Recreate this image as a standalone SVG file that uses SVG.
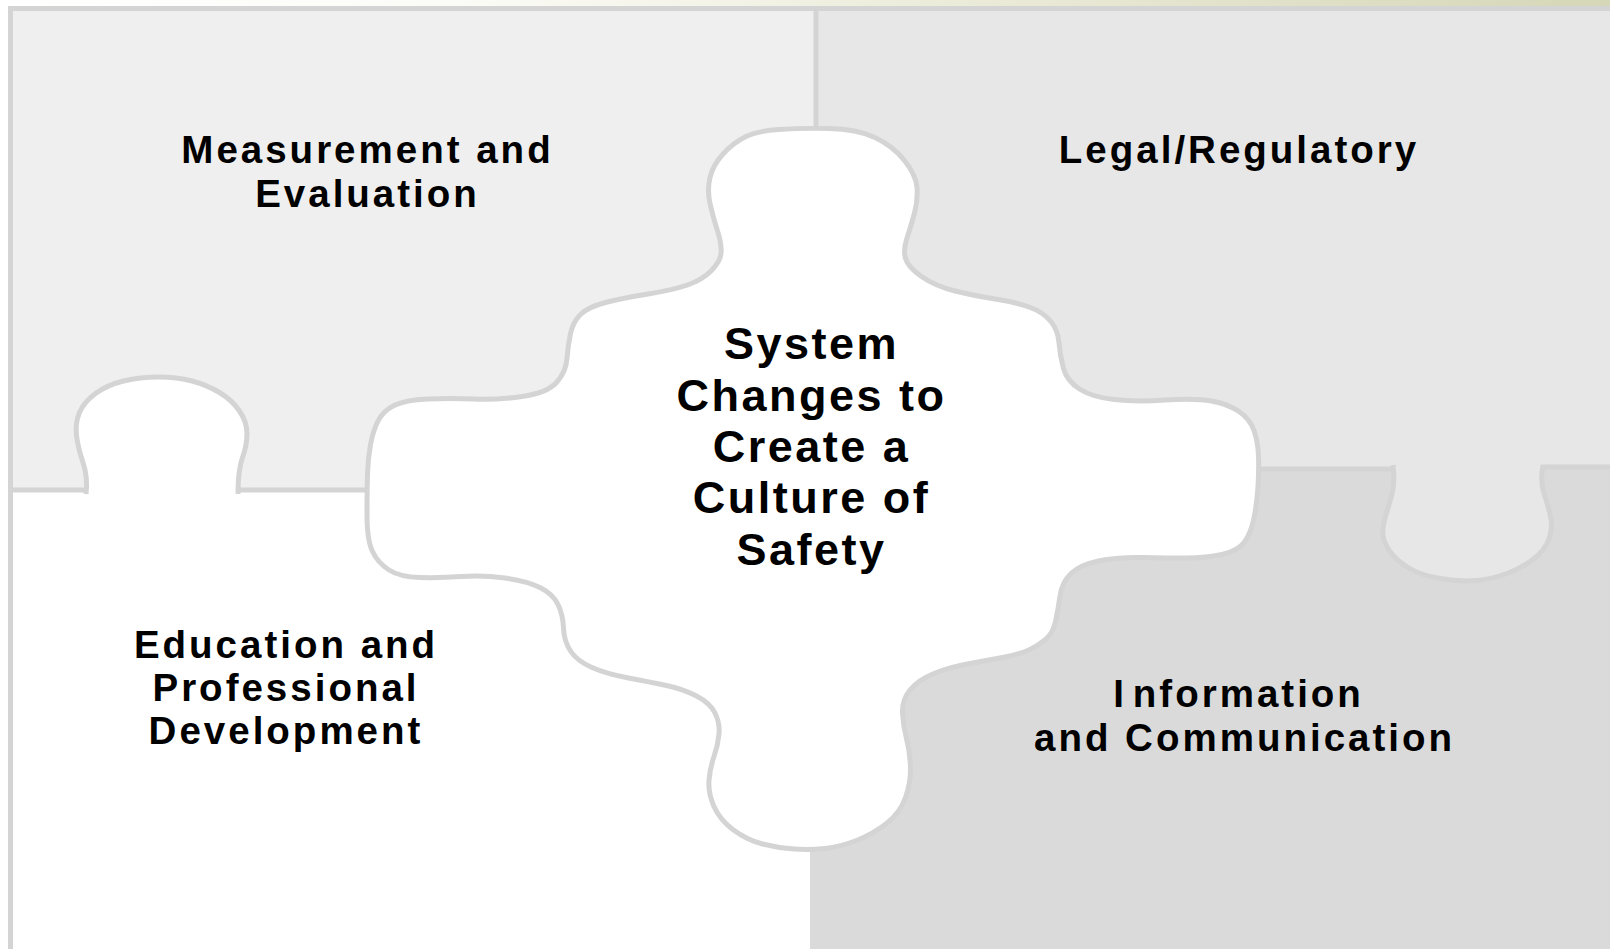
<svg xmlns="http://www.w3.org/2000/svg" width="1610" height="949" viewBox="0 0 1610 949">
  <defs>
    <linearGradient id="topGlow" x1="0" y1="0" x2="1" y2="0">
      <stop offset="0" stop-color="#ffffff"/>
      <stop offset="0.3" stop-color="#fbfbf6"/>
      <stop offset="0.6" stop-color="#ebebd9"/>
      <stop offset="1" stop-color="#d6d6b8"/>
    </linearGradient>
    <style>
      .edge { stroke: #d4d4d4; stroke-width: 5; fill: none; }
      .label { font-family: "Liberation Sans", Arial, sans-serif; font-weight: bold; fill: #000; text-anchor: middle; }
      .side { font-size: 38.5px; letter-spacing: 3px; }
      .core { font-size: 45px; letter-spacing: 2.5px; }
    </style>
  </defs>

  <!-- page background and header strip -->
  <rect x="0" y="0" width="1610" height="949" fill="#ffffff"/>
  <rect x="0" y="0" width="1610" height="6" fill="url(#topGlow)"/>

  <!-- quadrant pieces -->
  <g id="piece-measurement">
    <rect x="13" y="11" width="803" height="479" fill="#efefef"/>
  </g>
  <g id="piece-legal">
    <rect x="816" y="11" width="794" height="458" fill="#e7e7e7"/>
  </g>
  <g id="piece-education">
    <rect x="13" y="490" width="797" height="459" fill="#ffffff"/>
    <!-- knob reaching up into the measurement piece -->
    <path class="edge" style="fill:#ffffff" d="M 86,494 Q 88,477 83,462.5 Q 78,448 76.5,435.5 Q 75,423 79.5,412.5 Q 84,402 95.5,393.5 Q 107,385 123.5,381 Q 140,377 158.5,377 Q 177,377 192,381 Q 207,385 219.5,392.5 Q 232,400 239.5,411 Q 247,422 247,433.5 Q 247,445 242.5,457.5 Q 238,470 238,494"/>
  </g>
  <g id="piece-information">
    <rect x="810" y="469" width="800" height="480" fill="#dadada"/>
  </g>
  <!-- knob of the legal piece reaching down into the information piece -->
  <path class="edge" style="fill:#e7e7e7" d="M 1393,465 Q 1395,483 1392,494 Q 1389,505 1385.5,516.5 Q 1382,528 1383,535.5 Q 1384,543 1390,551.5 Q 1396,560 1408,567.5 Q 1420,575 1440,578.5 Q 1460,582 1476,580.5 Q 1492,579 1507,573.5 Q 1522,568 1533.5,559 Q 1545,550 1549,539 Q 1553,528 1550.5,516.5 Q 1548,505 1544,493.5 Q 1540,482 1543,465"/>

  <!-- seams between pieces and outer frame -->
  <g id="seams" class="edge">
    <path d="M 8,8.5 H 1610"/>
    <path d="M 10.5,6 V 949"/>
    <path d="M 816,11 V 132"/>
    <path d="M 13,490 H 86 M 238,490 H 369"/>
    <path d="M 1257,469 H 1394 M 1542,467 H 1610"/>
  </g>

  <!-- central piece -->
  <g id="piece-system">
    <path class="edge" style="fill:#ffffff" d="M 778.5,129.5 Q 800,128 828.5,128.5 Q 857,129 875,137.5 Q 893,146 904.5,160.5 Q 916,175 917,187.5 Q 918,200 914.5,213 Q 911,226 907,238 Q 903,250 905.5,258.5 Q 908,267 921.5,276.5 Q 935,286 955,291 Q 975,296 995,299 Q 1015,302 1029,307 Q 1043,312 1050.5,321 Q 1058,330 1059,343 Q 1060,356 1063.5,368.5 Q 1067,381 1079.5,389 Q 1092,397 1114,399.5 Q 1136,402 1165.5,400 Q 1195,398 1211.5,401 Q 1228,404 1239,411.5 Q 1250,419 1254,430.5 Q 1258,442 1258.5,456 Q 1259,470 1258,486.5 Q 1257,503 1254,518 Q 1251,533 1244.5,542 Q 1238,551 1222,554.5 Q 1206,558 1186.5,558 Q 1167,558 1142,557.5 Q 1117,557 1098.5,561 Q 1080,565 1071,573.5 Q 1062,582 1060,596 Q 1058,610 1055.5,621.5 Q 1053,633 1045.5,639.5 Q 1038,646 1029,650 Q 1020,654 1005,657 Q 990,660 970,663.5 Q 950,667 934,673.5 Q 918,680 910,690 Q 902,700 902.5,712.5 Q 903,725 906.5,738.5 Q 910,752 910.5,767 Q 911,782 905.5,797.5 Q 900,813 886.5,823.5 Q 873,834 856.5,840.5 Q 840,847 825,848.5 Q 810,850 794,849 Q 778,848 762.5,844 Q 747,840 733.5,830 Q 720,820 714,806.5 Q 708,793 709,780.5 Q 710,768 714,756.5 Q 718,745 719,734 Q 720,723 715,713 Q 710,703 696.5,696 Q 683,689 666.5,685.5 Q 650,682 628.5,678 Q 607,674 592,667.5 Q 577,661 570.5,651 Q 564,641 563.5,628 Q 563,615 558,604.5 Q 553,594 540,587.5 Q 527,581 505,578 Q 483,575 461.5,576.5 Q 440,578 420,577.5 Q 400,577 389,570 Q 378,563 372.5,551.5 Q 367,540 367,515 Q 367,490 367.5,474 Q 368,458 370.5,444.5 Q 373,431 378,421 Q 383,411 394,405.5 Q 405,400 427.5,399 Q 450,398 473.5,399 Q 497,400 522,396.5 Q 547,393 556.5,382.5 Q 566,372 567,358.5 Q 568,345 570.5,333.5 Q 573,322 580.5,314.5 Q 588,307 605.5,302.5 Q 623,298 648,294 Q 673,290 687.5,285 Q 702,280 711,271 Q 720,262 721,253.5 Q 722,245 717.5,231 Q 713,217 710,203.5 Q 707,190 710,177.5 Q 713,165 723,154 Q 733,143 745,137 Q 757,131 778.5,129.5 Z"/>
  </g>

  <!-- labels -->
  <g id="label-measurement" class="label side">
    <text x="367.5" y="162.5">Measurement and</text>
    <text x="367.5" y="207">Evaluation</text>
  </g>
  <g id="label-legal" class="label side">
    <text x="1239" y="162.5">Legal/Regulatory</text>
  </g>
  <g id="label-system" class="label core">
    <text x="811.5" y="359.4">System</text>
    <text x="811.5" y="410.7">Changes to</text>
    <text x="811.5" y="462.1">Create a</text>
    <text x="811.5" y="513.4">Culture of</text>
    <text x="811.5" y="564.7">Safety</text>
  </g>
  <g id="label-education" class="label side">
    <text x="286" y="657.7">Education and</text>
    <text x="286" y="701">Professional</text>
    <text x="286" y="744.3">Development</text>
  </g>
  <g id="label-information" class="label side">
    <text x="1238.5" y="706.7">I<tspan dx="6">nformation</tspan></text>
    <text x="1244.5" y="751">and Communication</text>
  </g>
</svg>
